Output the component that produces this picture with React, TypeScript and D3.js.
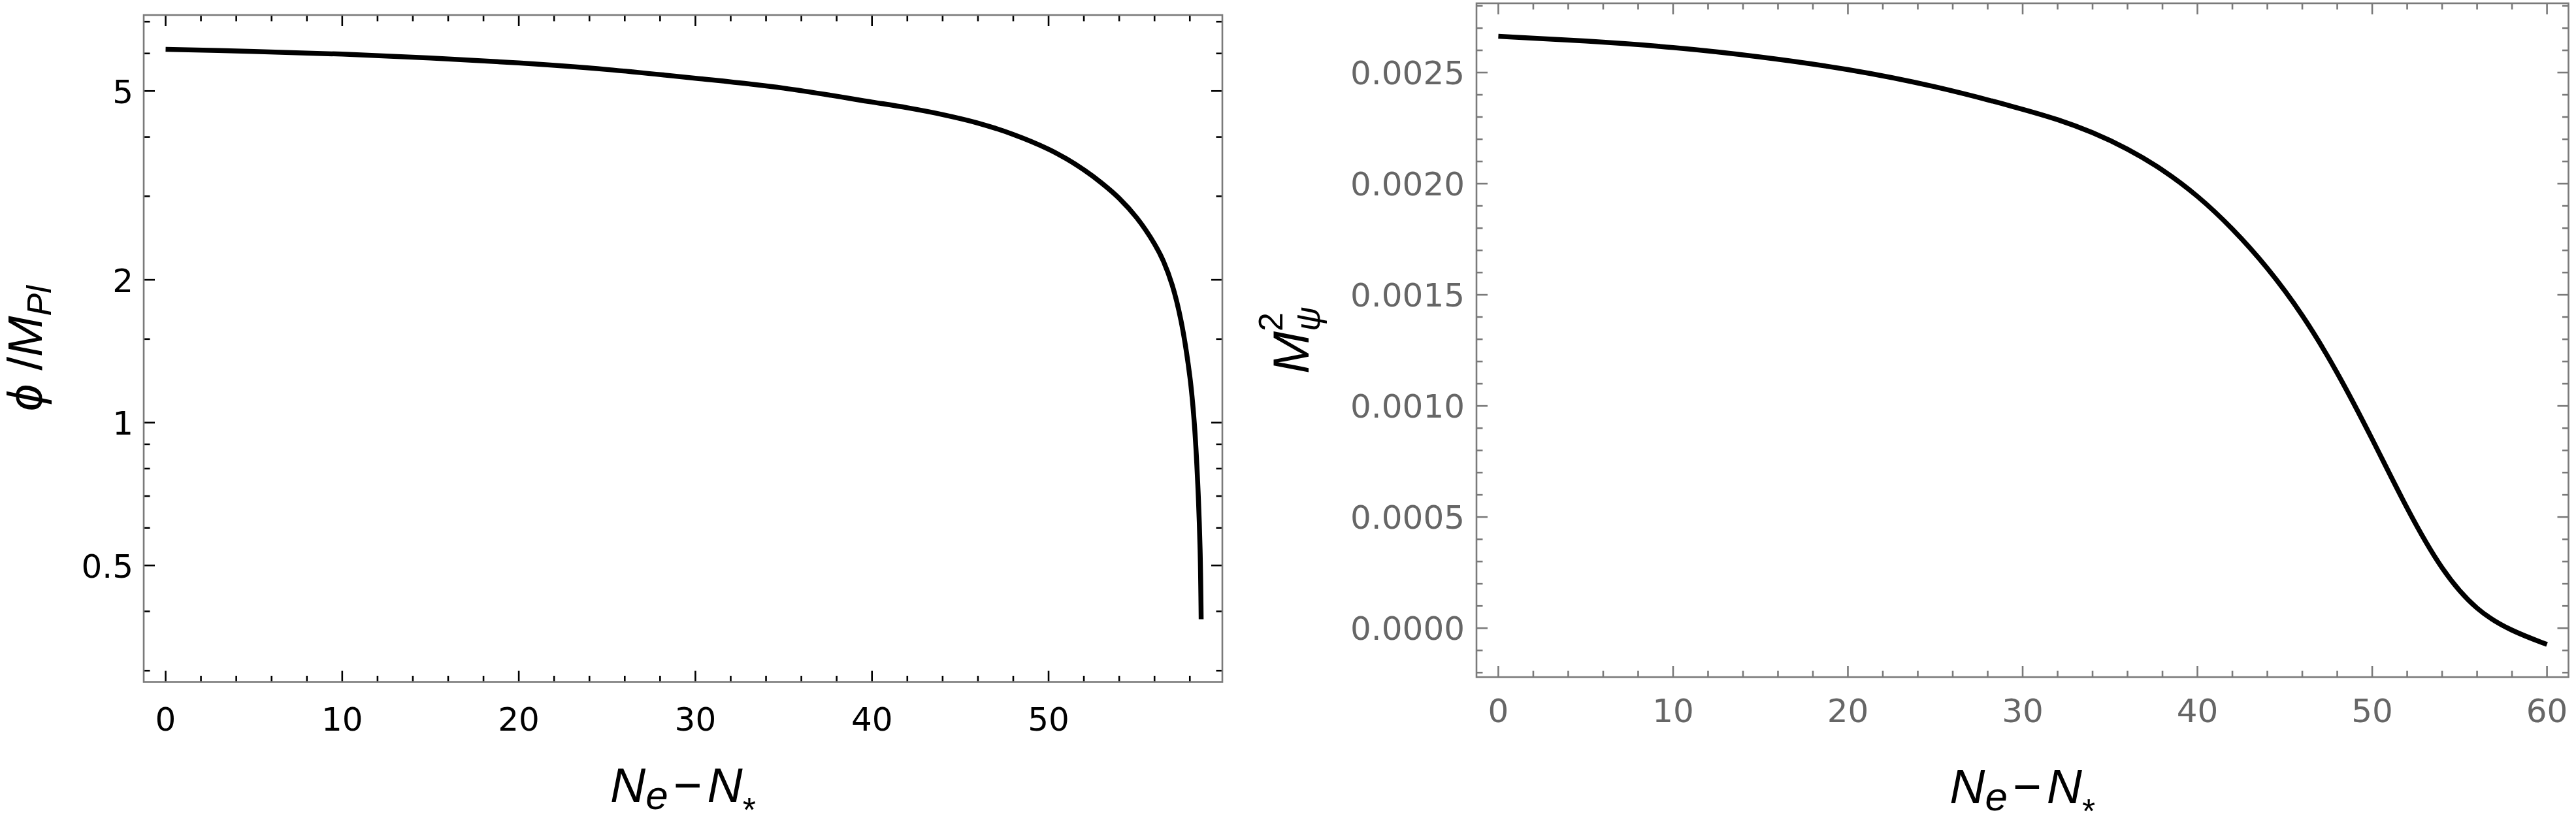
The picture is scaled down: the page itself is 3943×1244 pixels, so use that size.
import React from "react";
import * as d3 from "d3";

// Left panel: phi / M_Pl against N_e - N_*
const phiN = [0, 5, 10, 15, 20, 25, 30, 35, 40, 42, 44, 46, 48, 50, 51, 52, 53, 54, 55, 56, 56.5, 57, 57.5, 58, 58.25, 58.45, 58.58, 58.64];
const phiValues = [6.12, 6.06, 5.98, 5.87, 5.73, 5.55, 5.32, 5.07, 4.74, 4.61, 4.46, 4.28, 4.05, 3.77, 3.6, 3.41, 3.2, 2.97, 2.7, 2.38, 2.19, 1.95, 1.64, 1.25, 1.0, 0.74, 0.54, 0.385];
const phiYTicks = [0.5, 1, 2, 5];
const phiYMinor = [0.3, 0.4, 0.6, 0.7, 0.8, 0.9, 1.5, 3, 4, 6, 7];
const phiXTicks = [0, 10, 20, 30, 40, 50];

// Right panel: M_psi^2 against N_e - N_*
const massN = [0, 5, 10, 15, 20, 25, 30, 32, 34, 36, 38, 40, 42, 44, 46, 48, 50, 52, 54, 56, 58, 60];
const massValues = [0.002663, 0.002643, 0.002615, 0.002572, 0.002517, 0.00244, 0.002336, 0.00229, 0.002232, 0.002158, 0.002065, 0.001948, 0.0018, 0.001625, 0.001415, 0.001155, 0.000853, 0.000533, 0.000255, 0.000075, -0.000014, -0.000073];
const massYTicks = [0, 0.0005, 0.001, 0.0015, 0.002, 0.0025];
const massXTicks = [0, 10, 20, 30, 40, 50, 60];

const W = 3943;
const H = 1244;
const FRAME = "#7a7a7a";
const TICK_FONT = "'DejaVu Sans', sans-serif";
const TITLE_FONT = "'Liberation Sans', Arial, sans-serif";

function XTitle({ cx, y }: { cx: number; y: number }) {
  return (
    <text x={cx} y={y} textAnchor="middle" fontFamily={TITLE_FONT} fontSize={75} fill="#000">
      <tspan fontStyle="italic">N</tspan>
      <tspan fontStyle="italic" fontSize={62} dy={11}>e</tspan>
      <tspan dy={-11} dx={8}>−</tspan>
      <tspan fontStyle="italic" dx={8}>N</tspan>
      <tspan fontSize={52} dy={30}>*</tspan>
    </text>
  );
}

function LeftPanel() {
  const x = d3.scaleLinear().domain([-1.24, 59.84]).range([220, 1871]);
  const y = d3.scaleLog().domain([0.284, 7.23]).range([1043.5, 23]);
  const [x0, x1] = x.range();
  const [yb, yt] = y.range();
  const line = d3
    .line<number>()
    .x((_, i) => x(phiN[i]))
    .y((d) => y(d))
    .curve(d3.curveCatmullRom.alpha(0.5));
  const xMinor = d3.range(0, 59, 2).filter((v) => v % 10 !== 0);

  return (
    <g>
      <path d={line(phiValues) || ""} fill="none" stroke="#000" strokeWidth={7.5} strokeLinejoin="round" />
      <g stroke="#000" strokeWidth={2.6}>
        {phiXTicks.map((t) => (
          <g key={"xm" + t}>
            <line x1={x(t)} x2={x(t)} y1={yb} y2={yb - 17} />
            <line x1={x(t)} x2={x(t)} y1={yt} y2={yt + 17} />
          </g>
        ))}
        {xMinor.map((t) => (
          <g key={"xn" + t}>
            <line x1={x(t)} x2={x(t)} y1={yb} y2={yb - 9.5} />
            <line x1={x(t)} x2={x(t)} y1={yt} y2={yt + 9.5} />
          </g>
        ))}
        {phiYTicks.map((t) => (
          <g key={"ym" + t}>
            <line x1={x0} x2={x0 + 17} y1={y(t)} y2={y(t)} />
            <line x1={x1} x2={x1 - 17} y1={y(t)} y2={y(t)} />
          </g>
        ))}
        {phiYMinor.map((t) => (
          <g key={"yn" + t}>
            <line x1={x0} x2={x0 + 9.5} y1={y(t)} y2={y(t)} />
            <line x1={x1} x2={x1 - 9.5} y1={y(t)} y2={y(t)} />
          </g>
        ))}
      </g>
      <rect x={x0} y={yt} width={x1 - x0} height={yb - yt} fill="none" stroke={FRAME} strokeWidth={2.6} />
      <g fontFamily={TICK_FONT} fontSize={50} fill="#000">
        {phiYTicks.map((t) => (
          <text key={"yl" + t} x={204} y={y(t)} dy="0.37em" textAnchor="end">
            {String(t)}
          </text>
        ))}
        {phiXTicks.map((t) => (
          <text key={"xl" + t} x={x(t)} y={1118} textAnchor="middle">
            {String(t)}
          </text>
        ))}
      </g>
      <XTitle cx={(x0 + x1) / 2} y={1227} />
      <text
        transform={`translate(64,${(yt + yb) / 2}) rotate(-90)`}
        textAnchor="middle"
        fontFamily={TITLE_FONT}
        fontSize={75}
        fill="#000"
      >
        <tspan fontStyle="italic">ϕ</tspan>
        <tspan> /</tspan>
        <tspan fontStyle="italic">M</tspan>
        <tspan fontStyle="italic" fontSize={52} dy={14}>Pl</tspan>
      </text>
    </g>
  );
}

function RightPanel() {
  const x = d3.scaleLinear().domain([-1.25, 61.23]).range([2260, 3931.5]);
  const y = d3.scaleLinear().domain([-0.00022, 0.0028118]).range([1036, 5]);
  const [x0, x1] = x.range();
  const [yb, yt] = y.range();
  const line = d3
    .line<number>()
    .x((_, i) => x(massN[i]))
    .y((d) => y(d))
    .curve(d3.curveBasis);
  const xMinor = d3.range(0, 61, 2).filter((v) => v % 10 !== 0);
  const yMinor = d3.range(-2, 29).filter((k) => k % 5 !== 0).map((k) => k * 0.0001);
  const fmt = d3.format(".4f");
  const tickColor = "#7a7a7a";

  return (
    <g>
      <path d={line(massValues) || ""} fill="none" stroke="#000" strokeWidth={7.5} strokeLinejoin="round" />
      <g stroke={tickColor} strokeWidth={2.6}>
        {massXTicks.map((t) => (
          <g key={"xm" + t}>
            <line x1={x(t)} x2={x(t)} y1={yb} y2={yb - 17} />
            <line x1={x(t)} x2={x(t)} y1={yt} y2={yt + 17} />
          </g>
        ))}
        {xMinor.map((t) => (
          <g key={"xn" + t}>
            <line x1={x(t)} x2={x(t)} y1={yb} y2={yb - 9.5} />
            <line x1={x(t)} x2={x(t)} y1={yt} y2={yt + 9.5} />
          </g>
        ))}
        {massYTicks.map((t) => (
          <g key={"ym" + t}>
            <line x1={x0} x2={x0 + 17} y1={y(t)} y2={y(t)} />
            <line x1={x1} x2={x1 - 17} y1={y(t)} y2={y(t)} />
          </g>
        ))}
        {yMinor.map((t) => (
          <g key={"yn" + t}>
            <line x1={x0} x2={x0 + 9.5} y1={y(t)} y2={y(t)} />
            <line x1={x1} x2={x1 - 9.5} y1={y(t)} y2={y(t)} />
          </g>
        ))}
      </g>
      <rect x={x0} y={yt} width={x1 - x0} height={yb - yt} fill="none" stroke={FRAME} strokeWidth={2.6} />
      <g fontFamily={TICK_FONT} fontSize={50} fill="#666666">
        {massYTicks.map((t) => (
          <text key={"yl" + t} x={2242} y={y(t)} dy="0.36em" textAnchor="end">
            {fmt(t)}
          </text>
        ))}
        {massXTicks.map((t) => (
          <text key={"xl" + t} x={x(t)} y={1105} textAnchor="middle">
            {String(t)}
          </text>
        ))}
      </g>
      <XTitle cx={(x0 + x1) / 2} y={1229} />
      <text
        transform={`translate(2003,${(yt + yb) / 2}) rotate(-90)`}
        textAnchor="middle"
        fontFamily={TITLE_FONT}
        fontSize={78}
        fill="#000"
      >
        <tspan fontStyle="italic">M</tspan>
        <tspan fontSize={52} dy={-40}>2</tspan>
        <tspan fontStyle="italic" fontSize={52} dx={-29} dy={57}>ψ</tspan>
      </text>
    </g>
  );
}

export default function App() {
  return (
    <svg
      width={W}
      height={H}
      viewBox={`0 0 ${W} ${H}`}
      style={{ position: "absolute", left: 0, top: 0, background: "#fff" }}
    >
      <rect width={W} height={H} fill="#fff" />
      <LeftPanel />
      <RightPanel />
    </svg>
  );
}
